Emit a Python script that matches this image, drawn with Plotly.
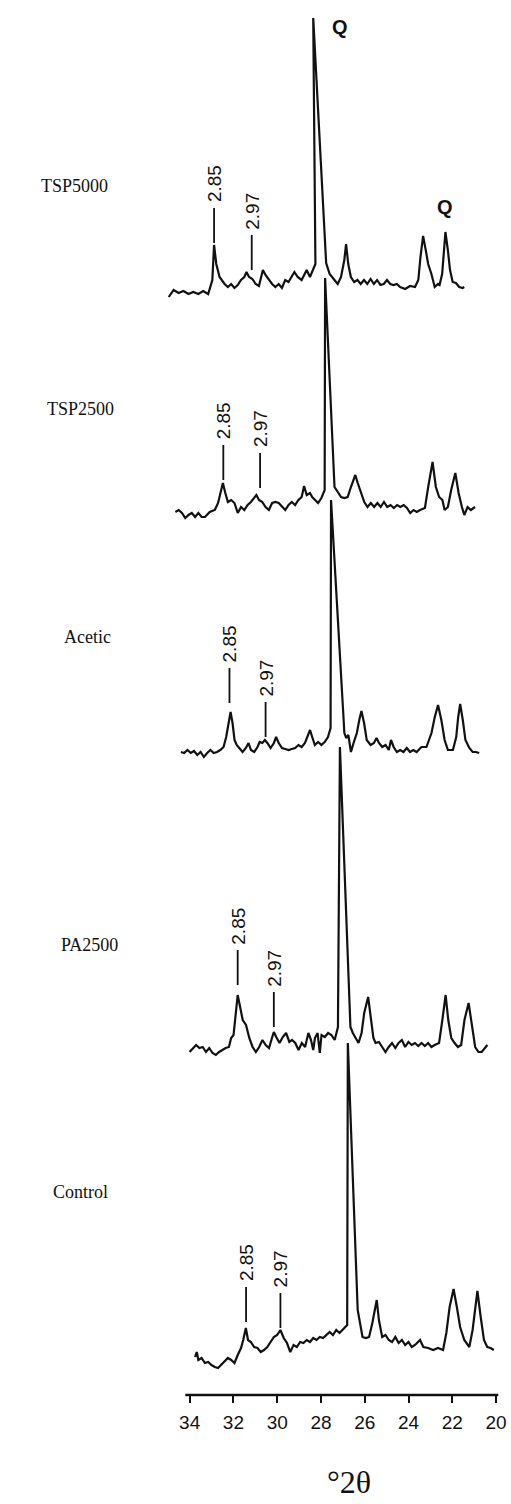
import plotly.graph_objects as go

# ---------------- data (2-theta in degrees, intensity in arbitrary units above baseline) -------------
samples = ["TSP5000", "TSP2500", "Acetic", "PA2500", "Control"]

tsp5000_2theta = [33.25, 33.03, 32.80, 32.58, 32.35, 32.13, 31.90, 31.68, 31.45, 31.38,
                  31.26, 31.18, 31.08, 30.93, 30.70, 30.55, 30.40, 30.25, 30.10, 29.95,
                  29.80, 29.70, 29.58, 29.43, 29.28, 29.13, 28.95, 28.83, 28.68, 28.53,
                  28.38, 28.23, 28.08, 27.93, 27.78, 27.63, 27.51, 27.36, 27.18, 26.95,
                  26.80, 26.55, 26.65, 26.06, 25.90, 25.68, 25.53, 25.38, 25.23, 25.15,
                  25.05, 24.93, 24.78, 24.63, 24.48, 24.33, 24.18, 24.03, 23.88, 23.73,
                  23.58, 23.43, 23.28, 23.13, 22.98, 22.83, 22.68, 22.45, 22.23, 22.00,
                  21.85, 21.75, 21.63, 21.51, 21.40, 21.25, 21.10, 20.95, 20.88, 20.76,
                  20.67, 20.61, 20.50, 20.40, 20.28, 20.13, 19.98, 19.83, 19.75]
tsp5000_int = [-5, 2, -1, 1, -2, 0, -2, 1, -2, 3,
               12, 47, 28, 15, 8, 5, 8, 4, 7, 12,
               15, 20, 15, 13, 8, 6, 22, 17, 12, 8,
               5, 8, 4, 12, 10, 15, 20, 15, 12, 22,
               15, 28, 274, 29, 18, 12, 8, 15, 32, 48,
               28, 15, 10, 12, 8, 12, 8, 13, 8, 12,
               7, 8, 12, 8, 7, 8, 5, 3, 6, 5,
               12, 35, 56, 42, 28, 18, 5, 8, 7, 18,
               42, 60, 42, 22, 10, 9, 5, 4, 5]

tsp2500_2theta = [33.49, 33.34, 33.19, 33.04, 32.89, 32.74, 32.59, 32.44, 32.29, 32.14,
                  31.92, 31.69, 31.54, 31.42, 31.32, 31.21, 31.09, 30.94, 30.79, 30.64,
                  30.49, 30.34, 30.19, 30.04, 29.89, 29.79, 29.67, 29.52, 29.37, 29.22,
                  29.07, 28.92, 28.77, 28.62, 28.47, 28.32, 28.17, 28.02, 27.87, 27.72,
                  27.61, 27.49, 27.34, 27.24, 27.12, 26.97, 26.82, 26.67, 26.65, 26.22,
                  26.07, 25.92, 25.77, 25.62, 25.47, 25.27, 25.16, 25.01, 24.86, 24.71,
                  24.56, 24.41, 24.26, 24.11, 23.96, 23.81, 23.66, 23.51, 23.36, 23.21,
                  23.06, 22.91, 22.76, 22.61, 22.46, 22.31, 22.09, 21.94, 21.74, 21.59,
                  21.44, 21.29, 21.19, 21.04, 20.89, 20.70, 20.55, 20.40, 20.29, 20.14,
                  19.99, 19.80]
tsp2500_int = [-2, 0, -3, -8, -5, -3, -7, -3, -7, -7,
               -2, 0, 7, 17, 27, 17, 8, 10, 7, -3,
               3, 0, 5, 8, 12, 15, 10, 8, 3, 0,
               7, 8, 7, 3, 0, 5, 8, 5, 10, 13,
               24, 15, 17, 13, 10, 7, 12, 20, 232, 23,
               18, 13, 12, 13, 23, 35, 27, 17, 8, 3,
               7, 3, 7, 3, 8, 3, 5, 2, 5, 3,
               5, 2, -3, 0, -2, 0, 2, 23, 48, 23,
               13, 10, 0, 3, 20, 37, 17, 3, -5, 3,
               0, 3]

acetic_2theta = [33.51, 33.36, 33.21, 33.06, 32.91, 32.76, 32.61, 32.46, 32.31, 32.16,
                 32.01, 31.86, 31.71, 31.56, 31.44, 31.33, 31.24, 31.15, 31.06, 30.96,
                 30.84, 30.69, 30.54, 30.42, 30.31, 30.16, 30.01, 29.91, 29.79, 29.67,
                 29.56, 29.41, 29.26, 29.16, 29.04, 28.89, 28.74, 28.59, 28.44, 28.29,
                 28.14, 27.99, 27.84, 27.73, 27.61, 27.51, 27.39, 27.24, 27.09, 26.94,
                 26.79, 26.67, 26.65, 26.04, 25.96, 25.86, 25.74, 25.62, 25.47, 25.36,
                 25.26, 25.14, 25.02, 24.84, 24.69, 24.57, 24.46, 24.31, 24.16, 24.01,
                 23.91, 23.79, 23.64, 23.49, 23.34, 23.19, 23.04, 22.89, 22.74, 22.52,
                 22.29, 22.06, 21.91, 21.76, 21.61, 21.46, 21.31, 21.08, 20.93, 20.84,
                 20.75, 20.63, 20.51, 20.33, 20.18, 20.03, 19.88]
acetic_int = [0, -1, 2, -1, 1, -3, 0, -5, -1, 2,
              -1, 0, 2, 5, 15, 29, 40, 29, 12, 7,
              4, 0, 4, 9, 2, 0, 5, 10, 9, 12,
              9, 4, 9, 15, 9, 4, 3, 2, 3, 4,
              7, 5, 9, 15, 22, 15, 7, 10, 7, 10,
              15, 24, 252, 19, 14, 17, 0, 9, 19, 32,
              41, 29, 12, 7, 9, 14, 9, 5, 7, 2,
              12, 5, 0, 2, 0, 4, 0, 2, 0, 5,
              5, 19, 35, 47, 32, 12, 2, 2, 15, 35,
              48, 32, 12, 4, 0, 0, -1]

pa2500_2theta = [33.52, 33.37, 33.22, 33.07, 32.92, 32.77, 32.62, 32.47, 32.32, 32.17,
                 32.02, 31.87, 31.72, 31.62, 31.51, 31.42, 31.32, 31.21, 31.09, 30.94,
                 30.79, 30.64, 30.49, 30.34, 30.19, 30.04, 29.89, 29.74, 29.67, 29.56,
                 29.41, 29.26, 29.11, 28.96, 28.84, 28.69, 28.54, 28.39, 28.24, 28.09,
                 27.97, 27.87, 27.79, 27.67, 27.57, 27.49, 27.34, 27.19, 27.04, 26.89,
                 26.74, 26.65, 26.17, 26.06, 25.92, 25.80, 25.66, 25.54, 25.36, 25.24,
                 25.12, 25.02, 24.87, 24.72, 24.57, 24.42, 24.27, 24.12, 23.97, 23.82,
                 23.67, 23.52, 23.37, 23.22, 23.07, 22.92, 22.77, 22.62, 22.47, 22.32,
                 22.12, 21.97, 21.82, 21.70, 21.56, 21.41, 21.26, 21.11, 20.96, 20.77,
                 20.62, 20.47, 20.32, 20.17, 19.99, 19.91]
pa2500_int = [-2, 2, 5, 2, 3, -2, 2, -3, -5, -2,
              0, 2, 3, 12, 15, 37, 55, 43, 30, 25,
              12, 3, -2, 3, 10, 5, 2, 13, 18, 13,
              7, 13, 17, 8, 10, 7, 0, 7, 3, 17,
              10, 0, 12, 17, -3, 15, 13, 17, 15, 10,
              23, 303, 23, 17, 12, 7, 17, 37, 53, 33,
              12, 7, 8, 3, -2, 3, 7, 2, 7, 10,
              3, 8, 5, 7, 4, 7, 4, 7, 3, 5,
              7, 30, 55, 30, 12, 7, 3, 5, 30, 47,
              27, 3, -2, -2, 3, 5]

control_2theta = [33.63, 33.55, 33.48, 33.33, 33.18, 33.03, 32.88, 32.73, 32.58, 32.43,
                  32.28, 32.13, 31.98, 31.83, 31.68, 31.53, 31.43, 31.31, 31.21, 31.08,
                  30.93, 30.78, 30.63, 30.48, 30.33, 30.18, 30.03, 29.88, 29.73, 29.58,
                  29.43, 29.28, 29.13, 28.98, 28.83, 28.68, 28.53, 28.38, 28.23, 28.08,
                  27.93, 27.78, 27.63, 27.48, 27.33, 27.18, 27.03, 26.88, 26.68, 26.65,
                  26.20, 25.98, 25.83, 25.68, 25.53, 25.33, 25.23, 25.08, 24.93, 24.78,
                  24.63, 24.48, 24.33, 24.18, 24.03, 23.88, 23.73, 23.58, 23.35, 23.20,
                  22.98, 22.75, 22.53, 22.30, 22.15, 22.00, 21.82, 21.67, 21.52, 21.33,
                  21.10, 20.95, 20.83, 20.73, 20.58, 20.43, 20.28, 20.13, 19.98]
control_int = [-2, 3, -5, -3, -8, -7, -10, -12, -13, -10,
               -7, -3, -5, -8, 0, 7, 15, 27, 15, 13,
               8, 7, 3, 5, 8, 13, 18, 20, 25, 17,
               12, 3, 10, 8, 13, 12, 15, 13, 17, 15,
               18, 17, 20, 23, 20, 25, 22, 25, 30, 312,
               45, 18, 17, 18, 32, 55, 35, 18, 20, 15,
               13, 18, 12, 15, 10, 13, 8, 10, 15, 8,
               7, 5, 7, 5, 22, 48, 66, 48, 28, 15,
               8, 25, 48, 64, 38, 15, 8, 7, 5]

# d-spacing marker peaks (2-theta of the marked peak, intensity where the marker line ends)
d285_2theta = [31.18, 31.30, 31.29, 31.32, 31.30]
d285_mark_int = [49, 30, 49, 65, 33]
d297_2theta = [29.46, 29.62, 29.64, 29.67, 29.73]
d297_mark_int = [22, 22, 15, 23, 27]

# quartz labels on the top pattern
quartz_2theta = [25.45, 20.61]
quartz_int = [265, 85]

axis_ticks = [34, 32, 30, 28, 26, 24, 22, 20]

# ---------------- presentation (stacking offsets, positions) ----------------
x_shift_deg = [-1.704, -1.162, -0.891, -0.485, -0.123]   # horizontal offset of each pattern
y_offset = [1103, 885, 643, 345, 40]                      # vertical stacking offset
label_pos = [(-0.248, 0.870), (-0.233, 0.709), (-0.210, 0.545), (-0.205, 0.324), (-0.231, 0.146)]

X_RANGE = [35.355, 19.684]
Y_RANGE = [0, 1390]

series = [
    (tsp5000_2theta, tsp5000_int),
    (tsp2500_2theta, tsp2500_int),
    (acetic_2theta, acetic_int),
    (pa2500_2theta, pa2500_int),
    (control_2theta, control_int),
]

fig = go.Figure()
layout_axes = {}
annotations = []

for i, (name, (tt, ii)) in enumerate(zip(samples, series)):
    k = i + 2
    fig.add_trace(go.Scatter(
        x=tt, y=ii, mode="lines", name=name,
        xaxis=f"x{k}", yaxis=f"y{k}",
        line=dict(color="#111111", width=2.2),
        showlegend=False, hoverinfo="skip",
    ))
    layout_axes[f"xaxis{k}"] = dict(overlaying="x", visible=False,
                                    range=[X_RANGE[0] + x_shift_deg[i], X_RANGE[1] + x_shift_deg[i]])
    layout_axes[f"yaxis{k}"] = dict(overlaying="y", visible=False,
                                    range=[Y_RANGE[0] - y_offset[i], Y_RANGE[1] - y_offset[i]])
    # sample label
    annotations.append(dict(
        text=name, xref="paper", yref="paper",
        x=label_pos[i][0], y=label_pos[i][1],
        showarrow=False, xanchor="center", yanchor="middle",
        font=dict(family="Liberation Serif", size=18, color="#111111"),
    ))
    # d-spacing markers
    for txt, px, py in (("2.85", d285_2theta[i], d285_mark_int[i]),
                        ("2.97", d297_2theta[i], d297_mark_int[i])):
        annotations.append(dict(
            text=txt, xref=f"x{k}", yref=f"y{k}", x=px, y=py,
            textangle=-90, showarrow=True, arrowhead=0, arrowwidth=1.8,
            arrowcolor="#111111", ax=0, ay=-59, standoff=0, startstandoff=4,
            font=dict(family="Liberation Sans", size=19, color="#111111"),
        ))

for qx, qy in zip(quartz_2theta, quartz_int):
    annotations.append(dict(
        text="<b>Q</b>", xref="x2", yref="y2", x=qx, y=qy, showarrow=False,
        font=dict(family="Liberation Sans", size=20, color="#111111"),
    ))

annotations.append(dict(
    text="°2θ", xref="x", yref="paper", x=26.73, y=-0.0626, showarrow=False,
    xanchor="center", yanchor="middle",
    font=dict(family="Liberation Serif", size=32, color="#111111"),
))

fig.update_layout(
    width=511, height=1504,
    margin=dict(l=160, r=4, t=5, b=109),
    paper_bgcolor="white", plot_bgcolor="white",
    xaxis=dict(range=X_RANGE, tickvals=axis_ticks, ticktext=[str(v) for v in axis_ticks],
               ticks="outside", ticklen=7, tickwidth=2, tickcolor="#111111",
               showline=False, showgrid=False, zeroline=False,
               tickfont=dict(family="Liberation Sans", size=19, color="#111111"),
               ticklabelstandoff=3, ticklabeloverflow="allow"),
    yaxis=dict(range=Y_RANGE, visible=False),
    shapes=[dict(type="line", xref="x", yref="paper", x0=34.2, x1=19.9, y0=0, y1=0,
                 line=dict(color="#111111", width=2.5))],
    annotations=annotations,
    **layout_axes,
)

fig.write_html("out.html", config={"displayModeBar": False},
               post_script="document.body.style.margin='0px';")
